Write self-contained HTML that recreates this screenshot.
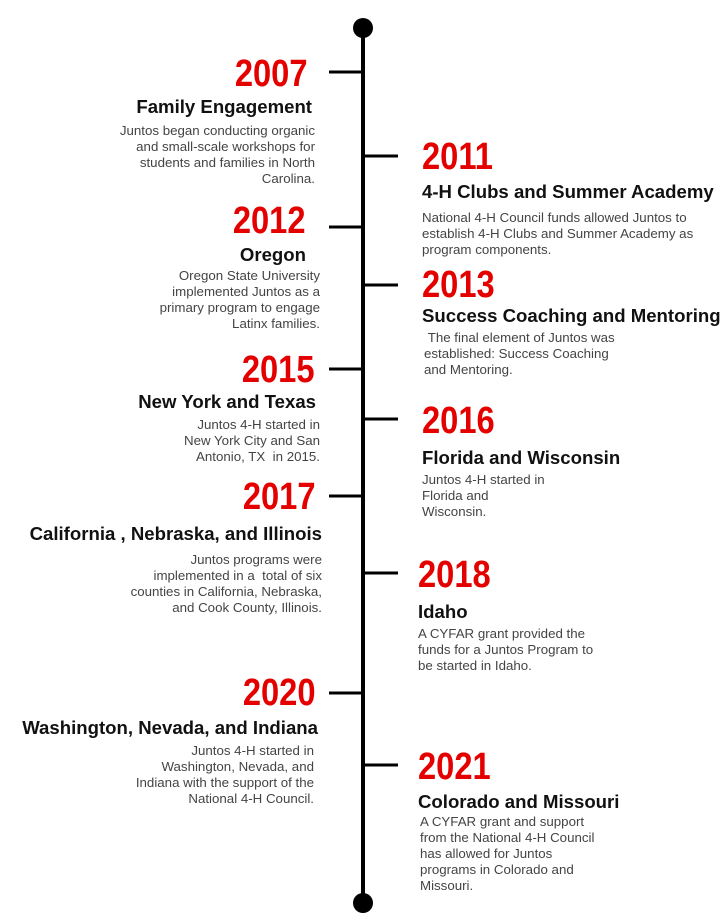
<!DOCTYPE html>
<html><head><meta charset="utf-8"><style>
body{margin:0;width:722px;height:924px;background:#fff;position:relative;overflow:hidden;font-family:"Liberation Sans",sans-serif}
.ab{position:absolute}
.yr{position:absolute;font-weight:bold;color:#e50000;font-size:38px;line-height:38px;transform:scaleX(0.86);white-space:nowrap}
.yl{transform-origin:right center;text-align:right}
.yrr{transform-origin:left center}
.tt{position:absolute;font-weight:bold;color:#111;font-size:18.6px;line-height:20px;white-space:nowrap;margin-top:2px}
.bd{position:absolute;color:#444;font-size:13.3px;line-height:16px;white-space:nowrap}
.r{text-align:right}
</style></head><body>
<svg class="ab" style="left:0;top:0" width="722" height="924">
<line x1="363" y1="28" x2="363" y2="903" stroke="#000" stroke-width="4"/>
<circle cx="363" cy="28" r="10" fill="#000"/>
<circle cx="363" cy="903" r="10" fill="#000"/>
<g stroke="#000" stroke-width="3">
<line x1="329" y1="72" x2="363" y2="72"/><line x1="329" y1="227" x2="363" y2="227"/><line x1="329" y1="369" x2="363" y2="369"/><line x1="329" y1="496" x2="363" y2="496"/><line x1="329" y1="693" x2="363" y2="693"/>
<line x1="363" y1="156" x2="398" y2="156"/><line x1="363" y1="285" x2="398" y2="285"/><line x1="363" y1="419" x2="398" y2="419"/><line x1="363" y1="573" x2="398" y2="573"/><line x1="363" y1="765" x2="398" y2="765"/>
</g></svg>

<div class="yr yl" style="right:414px;top:55px">2007</div>
<div class="tt r" style="right:410px;top:95px">Family Engagement</div>
<div class="bd r" style="right:407px;top:123px">Juntos began conducting organic<br>and small-scale workshops for<br>students and families in North<br>Carolina.</div>

<div class="yr yrr" style="left:422px;top:138px">2011</div>
<div class="tt" style="left:422px;top:180px">4-H Clubs and Summer Academy</div>
<div class="bd" style="left:422px;top:210px">National 4-H Council funds allowed Juntos to<br>establish 4-H Clubs and Summer Academy as<br>program components.</div>

<div class="yr yl" style="right:416px;top:202px">2012</div>
<div class="tt r" style="right:416px;top:243px">Oregon</div>
<div class="bd r" style="right:402px;top:268px">Oregon State University<br>implemented Juntos as a<br>primary program to engage<br>Latinx families.</div>

<div class="yr yrr" style="left:422px;top:266px">2013</div>
<div class="tt" style="left:422px;top:304px">Success Coaching and Mentoring</div>
<div class="bd" style="left:424px;top:330px">&nbsp;The final element of Juntos was<br>established: Success Coaching<br>and Mentoring.</div>

<div class="yr yl" style="right:407px;top:351px">2015</div>
<div class="tt r" style="right:406px;top:390px">New York and Texas</div>
<div class="bd r" style="right:402px;top:417px">Juntos 4-H started in<br>New York City and San<br>Antonio, TX&nbsp; in 2015.</div>

<div class="yr yrr" style="left:422px;top:402px">2016</div>
<div class="tt" style="left:422px;top:446px">Florida and Wisconsin</div>
<div class="bd" style="left:422px;top:472px">Juntos 4-H started in<br>Florida and<br>Wisconsin.</div>

<div class="yr yl" style="right:406px;top:478px">2017</div>
<div class="tt r" style="right:400px;top:522px">California , Nebraska, and Illinois</div>
<div class="bd r" style="right:400px;top:552px">Juntos programs were<br>implemented in a&nbsp; total of six<br>counties in California, Nebraska,<br>and Cook County, Illinois.</div>

<div class="yr yrr" style="left:418px;top:556px">2018</div>
<div class="tt" style="left:418px;top:600px">Idaho</div>
<div class="bd" style="left:418px;top:626px">A CYFAR grant provided the<br>funds for a Juntos Program to<br>be started in Idaho.</div>

<div class="yr yl" style="right:406px;top:674px">2020</div>
<div class="tt r" style="right:404px;top:716px">Washington, Nevada, and Indiana</div>
<div class="bd r" style="right:408px;top:743px">Juntos 4-H started in<br>Washington, Nevada, and<br>Indiana with the support of the<br>National 4-H Council.</div>

<div class="yr yrr" style="left:418px;top:748px">2021</div>
<div class="tt" style="left:418px;top:790px">Colorado and Missouri</div>
<div class="bd" style="left:420px;top:814px">A CYFAR grant and support<br>from the National 4-H Council<br>has allowed for Juntos<br>programs in Colorado and<br>Missouri.</div>
</body></html>
